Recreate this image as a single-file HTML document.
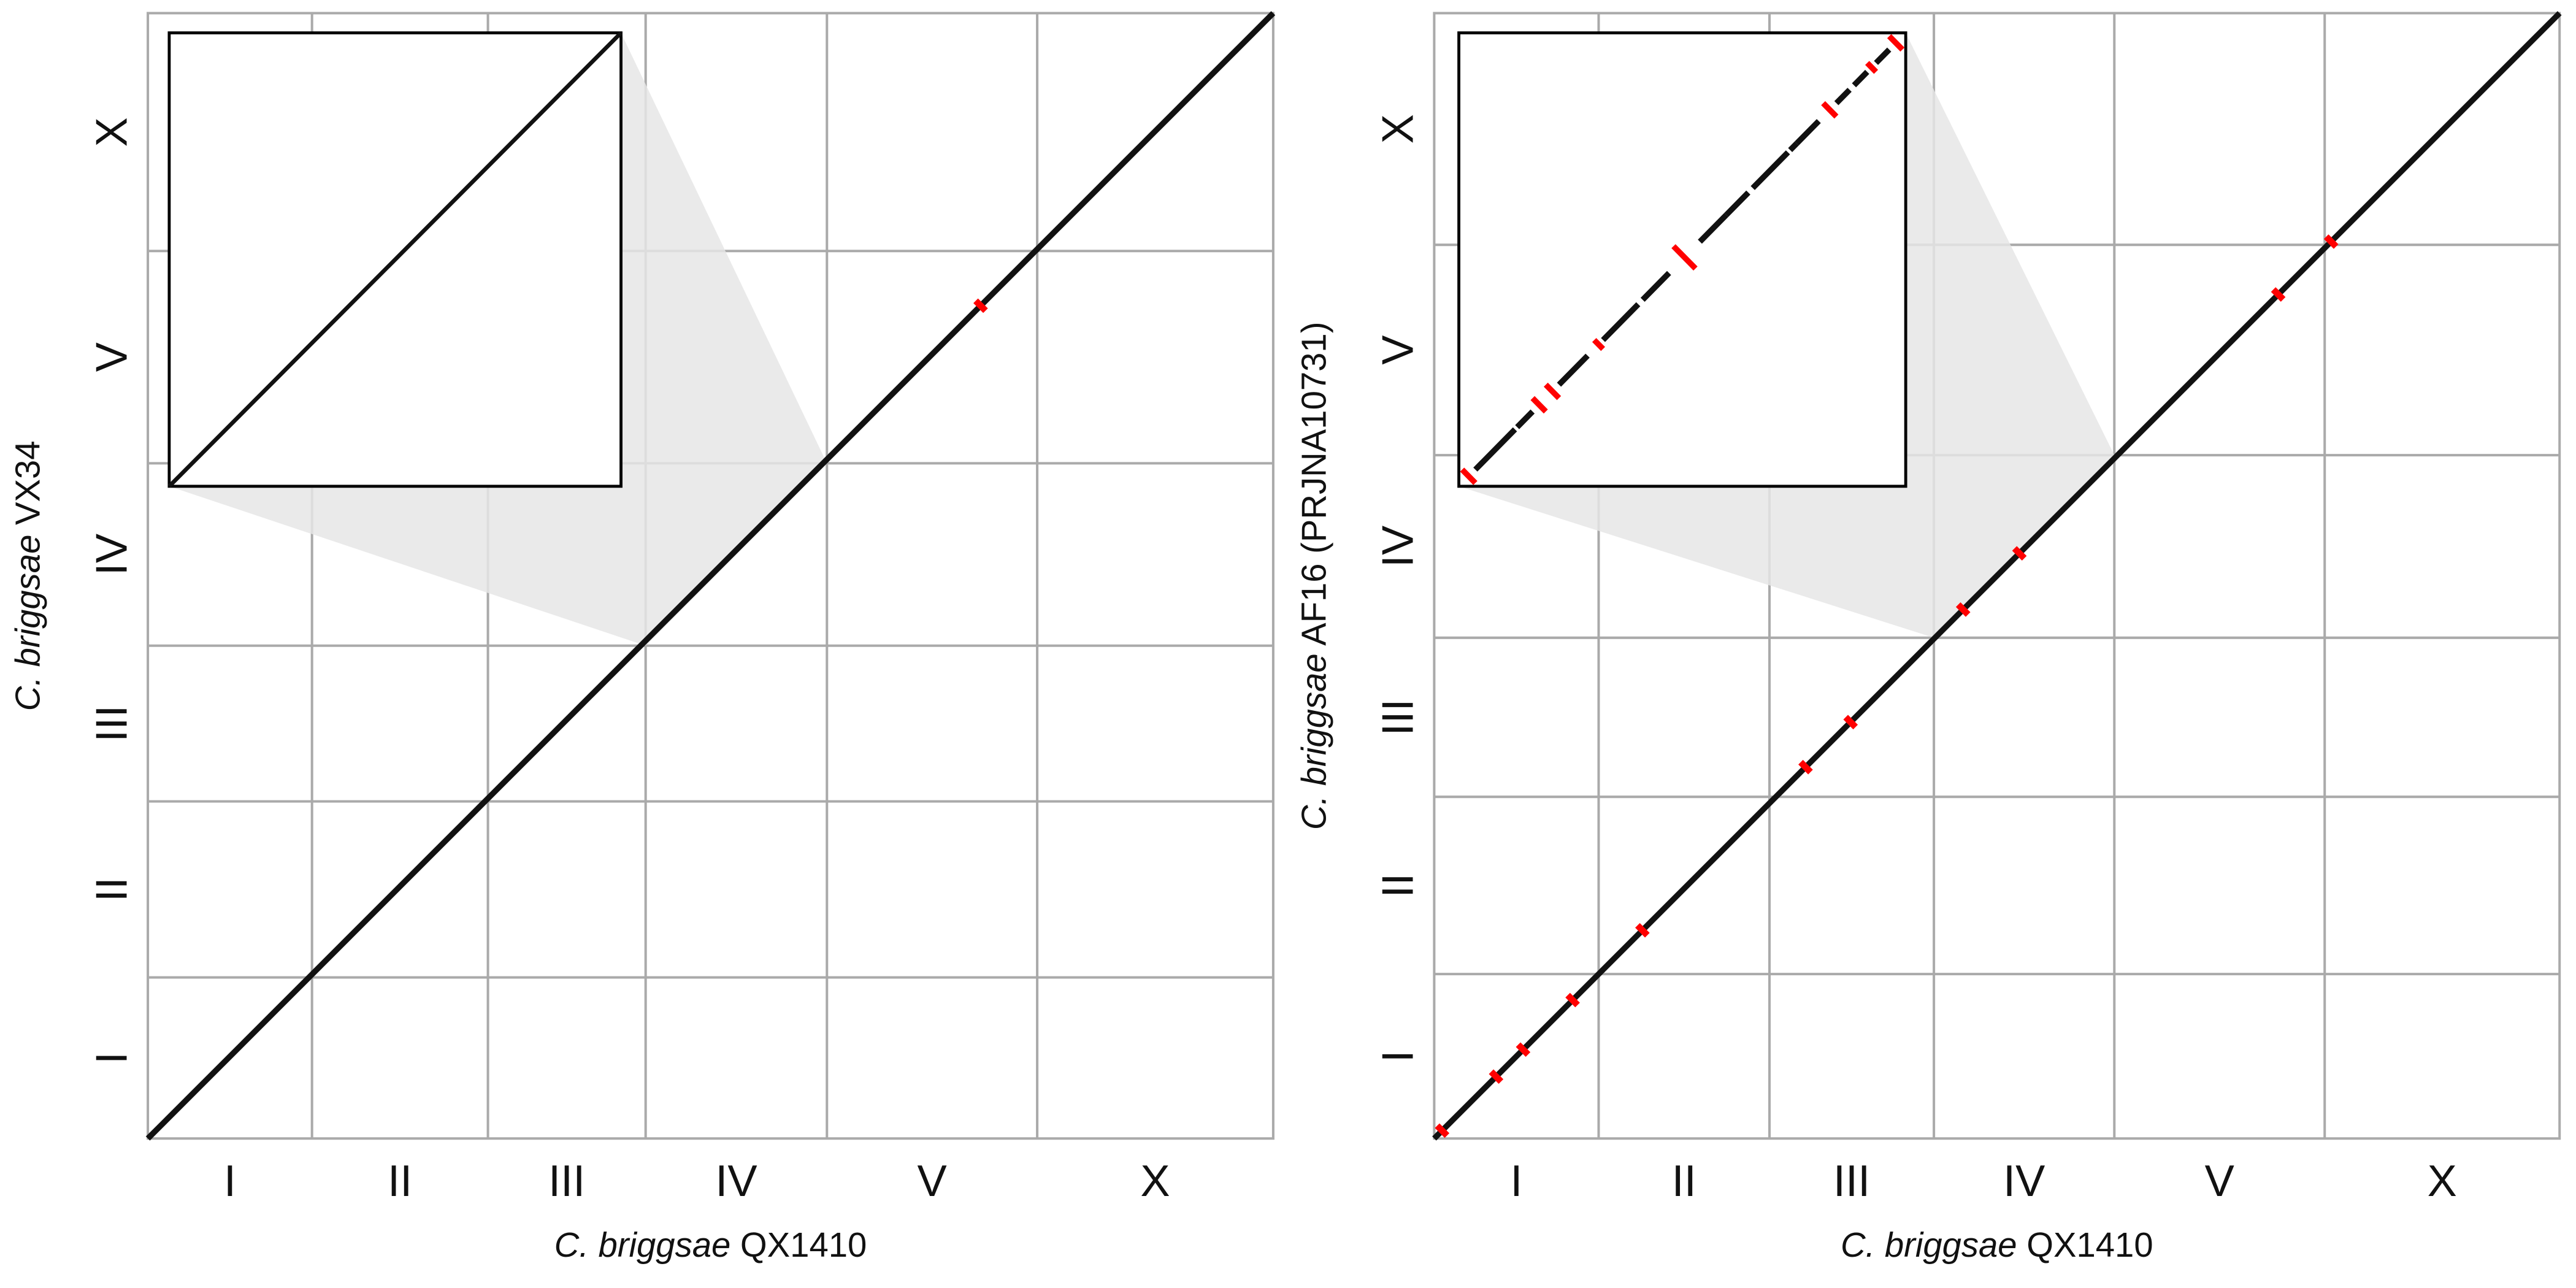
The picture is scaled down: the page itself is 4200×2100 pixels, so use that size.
<!DOCTYPE html>
<html><head><meta charset="utf-8"><style>
html,body{margin:0;padding:0;background:#fff}
svg{display:block}
text{font-family:"Liberation Sans",sans-serif;fill:#111}
</style></head><body>
<svg id="fig" width="4200" height="2100" viewBox="0 0 1568 784" xmlns="http://www.w3.org/2000/svg"></svg>
<script>
// chromosome names and lengths (Mb)
const chroms = ["I","II","III","IV","V","X"];
const qxLenL = [15.3, 16.4, 14.7, 16.9, 19.6, 22.0];
const qxLenR = [15.4, 16.0, 15.4, 16.9, 19.7, 22.0];
const vxLen = [15.1, 16.5, 14.6, 17.1, 19.9, 22.3];
const afLen = [15.4, 16.6, 14.9, 17.1, 19.7, 21.7];
// inset zoom ranges (chromosome index)
const leftInsetChrom = 3;
const rightInsetChrom = 3;
// right inset alignment blocks: [start fraction, end fraction, colour(0 black,1 red inverted)]
const rightBlocks = [[0.00,0.03,1],[0.03,0.12,0],[0.125,0.16,0],[0.16,0.19,1],[0.19,0.22,1],[0.22,0.285,0],[0.3,0.32,1],[0.32,0.40,0],[0.41,0.47,0],[0.48,0.53,1],[0.54,0.60,0],[0.60,0.65,0],[0.66,0.74,0],[0.745,0.76,0],[0.76,0.81,0],[0.82,0.85,1],[0.85,0.88,0],[0.89,0.92,0],[0.92,0.94,1],[0.94,0.97,0],[0.97,1.0,1]];
// red highlight positions on main diagonal (fraction of genome)
const leftRed = [0.74];
const rightRed = [0.007,0.055,0.079,0.123,0.185,0.33,0.37,0.47,0.52,0.75,0.797];

const NS="http://www.w3.org/2000/svg";
const svg=document.getElementById('fig');
function el(tag,attrs,parent){const e=document.createElementNS(NS,tag);for(const k in attrs)e.setAttribute(k,attrs[k]);(parent||svg).appendChild(e);return e;}
function cum(a){const c=[0];a.forEach(v=>c.push(c[c.length-1]+v));return c;}

function panel(x0,y0,size,xl,yl,ytitle,inset,insetChrom,blocks,reds,name){
  const g=el('g',{});
  
  
  const cx=cum(xl), cy=cum(yl), tx=cx[cx.length-1], ty=cy[cy.length-1];
  const X=v=>x0+v/tx*size, Y=v=>y0+size-v/ty*size;
  el('rect',{x:x0,y:y0,width:size,height:size,fill:'#fff',stroke:'#aaa','stroke-width':1.5},g);
  for(let i=1;i<chroms.length;i++){
    const gl=el('line',{x1:X(cx[i]),x2:X(cx[i]),y1:y0,y2:y0+size,stroke:'#aaa','stroke-width':1.5},g);
    
    
    const gh=el('line',{x1:x0,x2:x0+size,y1:Y(cy[i]),y2:Y(cy[i]),stroke:'#aaa','stroke-width':1.5},g);
    
    
  }
  chroms.forEach((c,i)=>{
    const t=el('text',{x:(X(cx[i])+X(cx[i+1]))/2,y:y0+size+35,'font-size':27,'text-anchor':'middle'},g);t.textContent=c;
    
    
    const ym=(Y(cy[i])+Y(cy[i+1]))/2;
    const u=el('text',{x:0,y:0,'font-size':27,'text-anchor':'middle',transform:`translate(${x0-13},${ym}) rotate(-90)`},g);u.textContent=c;
    
    
  });
  const xt=el('text',{x:x0+size/2,y:y0+size+72,'font-size':21,'text-anchor':'middle'},g);
  xt.innerHTML='<tspan font-style="italic">C. briggsae</tspan> QX1410';
  
  
  const yt=el('text',{x:0,y:0,'font-size':21,'text-anchor':'middle',transform:`translate(${x0-66},${y0+size/2}) rotate(-90)`},g);
  yt.innerHTML='<tspan font-style="italic">C. briggsae</tspan> '+ytitle;
  
  
  const [ix,iy,iw,ih]=inset;
  const a0=X(cx[insetChrom]),a1=X(cx[insetChrom+1]),b0=Y(cy[insetChrom]),b1=Y(cy[insetChrom+1]);
  const w=el('polygon',{points:`${ix},${iy+ih} ${ix+iw},${iy} ${a1},${b1} ${a0},${b0}`,fill:'#e6e6e6','fill-opacity':0.85},g);
  
  
  const d=el('line',{x1:X(0),y1:Y(0),x2:X(tx),y2:Y(ty),stroke:'#111','stroke-width':3.5},g);
  
  
  reds.forEach(f=>{
    const px=X(f*tx), py=Y(f*ty);
    const r=el('line',{x1:px-3,y1:py-3,x2:px+3,y2:py+3,stroke:'#f00','stroke-width':4},g);
    
    
  });
  const ib=el('rect',{x:ix,y:iy,width:iw,height:ih,fill:'#fff',stroke:'#000','stroke-width':1.8},g);
  
  
  if(!blocks){
    const l=el('line',{x1:ix,y1:iy+ih,x2:ix+iw,y2:iy,stroke:'#111','stroke-width':2.5},g);
    
    
  } else {
    blocks.forEach(b=>{
      const m=2;
      const x1=ix+m+b[0]*(iw-2*m), x2=ix+m+b[1]*(iw-2*m);
      const y1=iy+ih-m-b[0]*(ih-2*m), y2=iy+ih-m-b[1]*(ih-2*m);
      let s;
      if(b[2]){s=el('line',{x1:x1,y1:y2,x2:x2,y2:y1,stroke:'#f00','stroke-width':3.5},g);}
      else {s=el('line',{x1:x1,y1:y1,x2:x2,y2:y2,stroke:'#111','stroke-width':3.5},g);}
      
    });
  }
}
panel(90,8,685,qxLenL,vxLen,'VX34',[103,20,275,276],leftInsetChrom,null,leftRed,'left-dotplot');
panel(873,8,685,qxLenR,afLen,'AF16 (PRJNA10731)',[888,20,272,276],rightInsetChrom,rightBlocks,rightRed,'right-dotplot');
</script>
</body></html>
